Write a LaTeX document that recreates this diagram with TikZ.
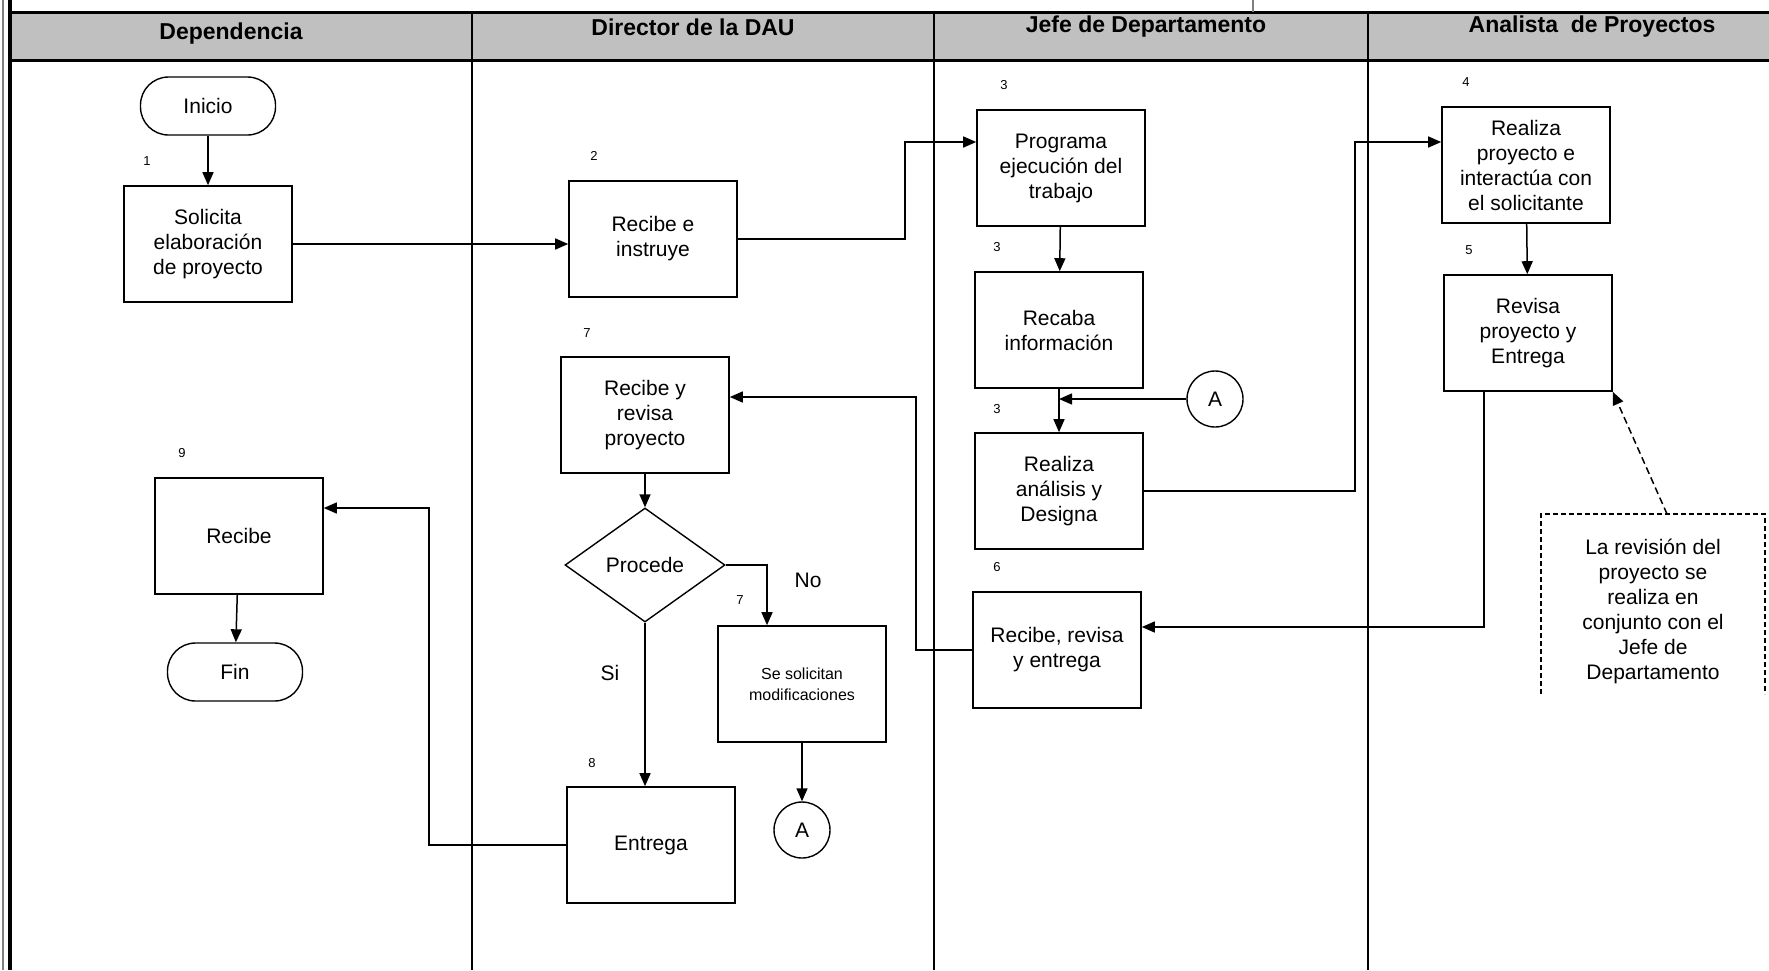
\documentclass[tikz,border=0pt]{standalone}
\usepackage{fontspec}
\setmainfont{Liberation Sans}
\usetikzlibrary{shapes.geometric,arrows.meta,positioning,calc}
\definecolor{lanegray}{RGB}{192,192,192}

\begin{document}
\begin{tikzpicture}[
        x=1pt, y=-1pt,
        every node/.style={font=\fontsize{21}{25}\selectfont},
        paso/.style={draw, line width=1.6pt, minimum width=168, minimum height=116, align=center, inner sep=2pt},
        term/.style={draw, line width=1.4pt, rounded corners=28pt, minimum width=135, minimum height=58},
        conector/.style={draw, circle, line width=1.4pt, minimum size=56, inner sep=0pt},
        decision/.style={draw, diamond, line width=1.4pt, minimum width=160, minimum height=114, inner sep=0pt},
        num/.style={font=\fontsize{13}{15}\selectfont},
        carril/.style={font=\bfseries\fontsize{23}{28}\selectfont},
        flecha/.style={line width=1.5pt, -{Triangle[length=13pt,width=11pt]}},
    ]
        \useasboundingbox (0,0) rectangle (1769,970);

        % swimlanes
        \fill[lanegray] (11,12) rectangle (1769,60);
        \draw[line width=3pt] (8,12) -- (1769,12);
        \draw[line width=3pt] (8,60) -- (1769,60);
        \draw[gray, line width=2pt] (3,0) -- (3,970);
        \draw[line width=4pt] (10,0) -- (10,970);
        \foreach \x in {472,934,1368}
            \draw[line width=2.5pt] (\x,12) -- (\x,970);
        \draw[gray, line width=1.5pt] (1253,0) -- (1253,12);

        \node[carril] (tdep) at (231,34) {Dependencia};
        \node[carril] (tdir) at (693,27) {Director de la DAU};
        \node[carril] (tjef) at (1146,27) {Jefe de Departamento};
        \node[carril] (tana) at (1592,27) {Analista~ de Proyectos};

        % Dependencia
        \node[term] (ini) at (208,106) {Inicio};
        \node[num] (n1) at (147,161) {1};
        \node[paso] (sol) at (208,244) {Solicita\\elaboración\\de proyecto};
        \node[num] (n9) at (182,453) {9};
        \node[paso] (rcb) at (239,536) {Recibe};
        \node[term] (fin) at (235,672) {Fin};

        % Director de la DAU
        \node[num] (n2) at (594,156) {2};
        \node[paso] (rec) at (653,239) {Recibe e\\instruye};
        \node[num] (n7a) at (587,333) {7};
        \node[paso] (ryr) at (645,415) {Recibe y\\revisa\\proyecto};
        \node[decision] (proce) at (645,565) {Procede};
        \node[num] (n7b) at (740,600) {7};
        \node[paso, font=\fontsize{16}{21}\selectfont] (ssm) at (802,684) {Se solicitan\\modificaciones};
        \node[conector] (conA2) at (802,830) {A};
        \node[num] (n8) at (592,763) {8};
        \node[paso] (ent) at (651,845) {Entrega};
        \node (si) at (610,673) {Si};
        \node (no) at (808,580) {No};

        % Jefe de Departamento
        \node[num] (n3a) at (1004,85) {3};
        \node[paso] (prog) at (1061,168) {Programa\\ejecución del\\trabajo};
        \node[num] (n3b) at (997,247) {3};
        \node[paso] (reca) at (1059,330) {Recaba\\información};
        \node[num] (n3c) at (997,409) {3};
        \node[paso] (rana) at (1059,491) {Realiza\\análisis y\\Designa};
        \node[conector] (conA1) at (1215,399) {A};
        \node[num] (n6) at (997,567) {6};
        \node[paso] (rre) at (1057,650) {Recibe, revisa\\y entrega};

        % Analista de Proyectos
        \node[num] (n4) at (1466,82) {4};
        \node[paso] (rpro) at (1526,165) {Realiza\\proyecto e\\interactúa con\\el solicitante};
        \node[num] (n5) at (1469,250) {5};
        \node[paso] (rev) at (1528,333) {Revisa\\proyecto y\\Entrega};
        \node[align=center] (nota) at (1653,611) {La revisión del\\proyecto se\\realiza en\\conjunto con el\\Jefe de\\Departamento};
        \draw[line width=1.3pt, dash pattern=on 5pt off 3pt] (1541,694) |- (1765,514) -- (1765,694);

        % bends
        \coordinate (k1) at (905,142);
        \coordinate (k2) at (1355,142);
        \coordinate (k3) at (1484,627);
        \coordinate (k4) at (916,397);
        \coordinate (k5) at (429,508);
        \coordinate (k6) at (767,565);
        \coordinate (nt) at (1667,514);

        \draw[flecha] (ini) -- (sol);
        \draw[flecha] (sol.east) -- (sol.east -| rec.west);
        \draw[flecha] (rec.east) -| (k1) -- (k1 -| prog.west);
        \draw[flecha] (prog) -- (reca);
        \draw[flecha] (reca) -- (rana);
        \draw[flecha] (conA1.west) -- (conA1.west -| reca.south);
        \draw[flecha] (rana.east) -| (k2) -- (k2 -| rpro.west);
        \draw[flecha] (rpro) -- (rev);
        \draw[flecha] (k3 |- rev.south) -- (k3) -- (k3 -| rre.east);
        \draw[flecha] (rre.west) -| (k4) -- (k4 -| ryr.east);
        \draw[flecha] (ryr) -- (proce);
        \draw[flecha] (proce.east) -- (k6) -- (k6 |- ssm.north);
        \draw[flecha] (ssm) -- (conA2);
        \draw[flecha] (proce.south) -- (proce.south |- ent.north);
        \draw[flecha] (ent.west) -| (k5) -- (k5 -| rcb.east);
        \draw[flecha] (rcb) -- (fin);
        \draw[flecha, dash pattern=on 7pt off 4pt] (nt) -- (rev.south east);
    \end{tikzpicture}
\end{document}
